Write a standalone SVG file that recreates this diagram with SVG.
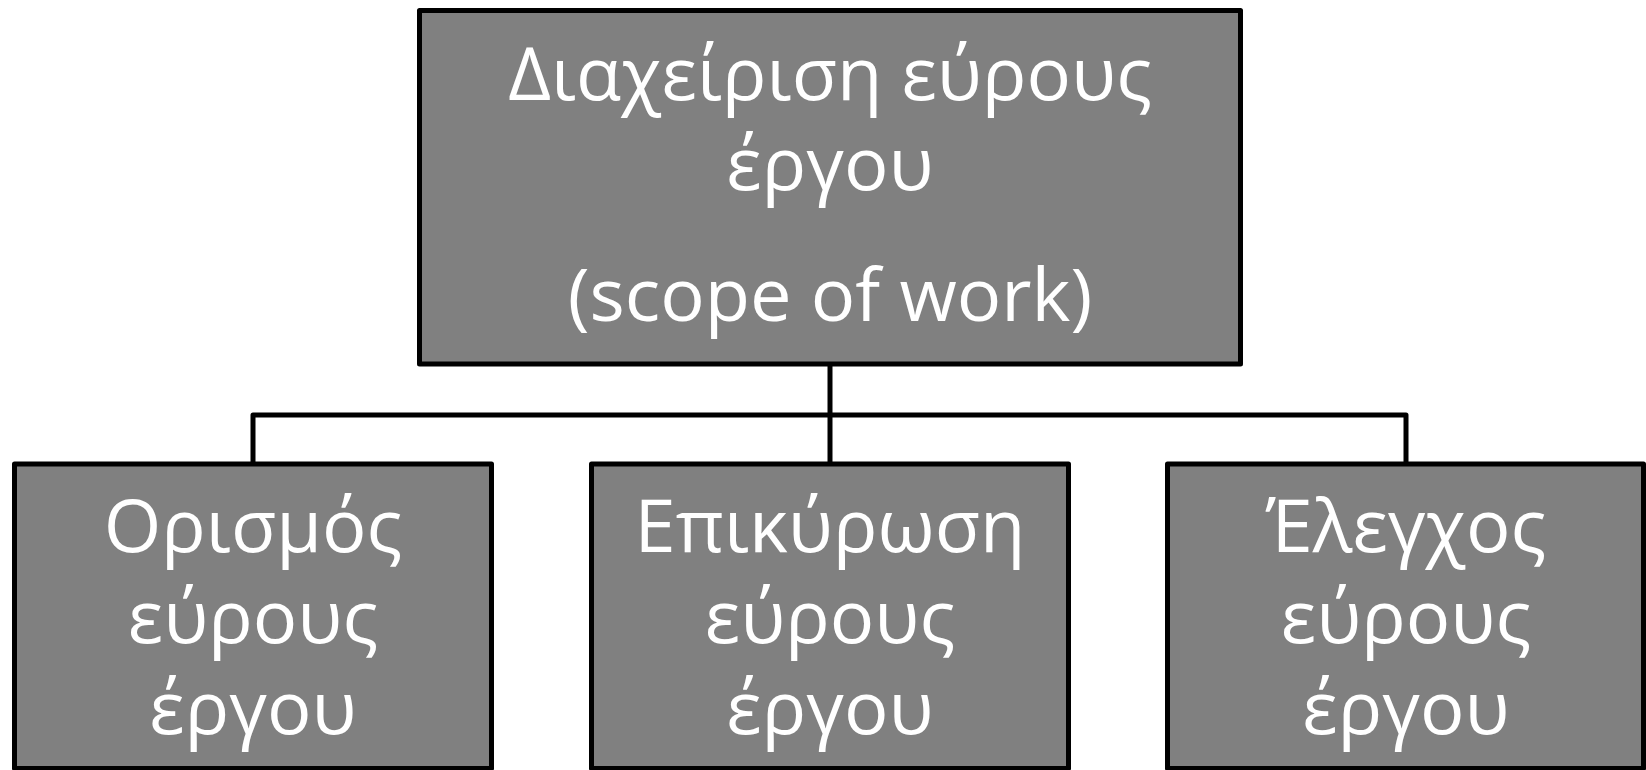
<svg xmlns="http://www.w3.org/2000/svg" width="1646" height="770" viewBox="0 0 1646 770">
<style>
.box{fill:#808080;stroke:#000;stroke-width:5;stroke-linejoin:round}
.lbl{fill:#fff;font-family:"Open Sans","Noto Sans","DejaVu Sans",sans-serif;font-size:74px;text-anchor:middle}
.con{fill:none;stroke:#000;stroke-width:5;stroke-linejoin:round}
</style>
<rect width="1646" height="770" fill="#fff"/>
<g id="connectors">
<path class="con" d="M830,364 V464"/>
<path class="con" d="M253,464 V415 H1406 V464"/>
</g>
<g id="root">
<rect class="box" x="419.5" y="10.5" width="821" height="353.5"/>
<text class="lbl" x="830" y="100">Διαχείριση εύρους</text>
<text class="lbl" x="830" y="190">έργου</text>
<text class="lbl" x="830" y="321">(scope of work)</text>
</g>
<g id="n1">
<rect class="box" x="14.5" y="464" width="477" height="304.5"/>
<text class="lbl" x="253" y="552">Ορισμός</text>
<text class="lbl" x="253" y="643">εύρους</text>
<text class="lbl" x="253" y="734">έργου</text>
</g>
<g id="n2">
<rect class="box" x="591.5" y="464" width="477" height="304.5"/>
<text class="lbl" x="830" y="552">Επικύρωση</text>
<text class="lbl" x="830" y="643">εύρους</text>
<text class="lbl" x="830" y="734">έργου</text>
</g>
<g id="n3">
<rect class="box" x="1167.5" y="464" width="476" height="304.5"/>
<text class="lbl" x="1406" y="552">Έλεγχος</text>
<text class="lbl" x="1406" y="643">εύρους</text>
<text class="lbl" x="1406" y="734">έργου</text>
</g>
</svg>
